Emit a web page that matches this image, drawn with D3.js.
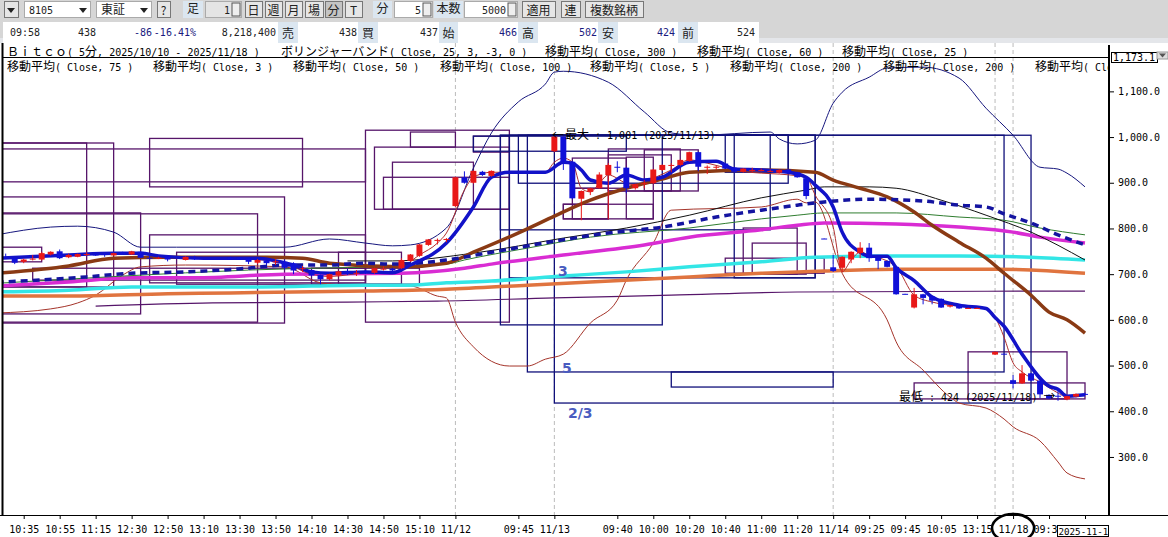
<!DOCTYPE html>
<html>
<head>
<meta charset="utf-8">
<script src="https://cdn.jsdelivr.net/npm/d3@7"></script>
<style>
  html, body { margin: 0; padding: 0; background: #fff; overflow: hidden; }
  svg { display: block; }
  text { white-space: pre; }
</style>
</head>
<body>
<div id="chart"></div>
<script>
// x axis, candle index -> label
const tickIndex = [0, 4, 8, 12, 16, 20, 24, 28, 32, 36, 40, 44, 48, 55, 59, 66, 70, 74, 78, 82, 86, 90, 94, 98, 102, 106, 110, 114, 118];
const tickLabels = ["10:35", "10:55", "11:15", "12:30", "12:50", "13:10", "13:30", "13:50", "14:10", "14:30", "14:50", "15:10", "11/12",
    "09:45", "11/13", "09:40", "10:00", "10:20", "10:40", "11:00", "11:20", "11/14", "09:25", "09:45", "10:05", "13:15", "11/18", "09:3", ""];
const priceTicks = [1100, 1000, 900, 800, 700, 600, 500, 400, 300];
const dayBreaks = [48, 59, 90, 108, 110];

// [index, open, high, low, close]
const candles = [
    [-2, 737, 745, 733, 735], [-1, 735, 736, 722, 725], [0, 727, 734, 724, 732], [1, 733, 742, 730, 734], [2, 732, 749, 730, 746],
    [3, 743, 750, 741, 749], [4, 750, 754, 733, 735], [5, 737, 745, 735, 742], [6, 738, 745, 737, 744], [7, 744, 748, 740, 744],
    [8, 743, 747, 740, 742], [9, 744, 746, 738, 743], [10, 741, 747, 740, 746], [11, 748, 749, 743, 744], [12, 743, 751, 742, 750],
    [13, 749, 750, 735, 736], [14, 736, 742, 733, 735], [15, 735, 738, 733, 736], [16, 738, 739, 728, 732], [18, 731, 739, 730, 738],
    [19, 735, 740, 731, 734], [23, 736, 738, 732, 733], [24, 736, 737, 732, 733], [25, 735, 736, 722, 727], [26, 725, 733, 722, 731],
    [27, 730, 731, 720, 724], [28, 728, 733, 720, 728], [29, 727, 732, 710, 714], [30, 724, 726, 700, 708], [31, 713, 718, 705, 713],
    [32, 709, 710, 695, 697], [33, 698, 699, 678, 689], [34, 689, 701, 686, 700], [35, 697, 707, 695, 706], [36, 705, 712, 698, 704],
    [37, 703, 709, 696, 703], [38, 705, 709, 700, 704], [39, 703, 714, 701, 713], [40, 712, 717, 708, 712], [41, 712, 714, 706, 708],
    [42, 713, 735, 711, 731], [43, 729, 744, 727, 743], [44, 740, 766, 738, 765], [45, 764, 777, 762, 776], [46, 775, 778, 765, 775],
    [47, 777, 779, 770, 777], [48, 849, 913, 847, 912], [49, 912, 925, 898, 900], [50, 900, 927, 898, 926], [51, 924, 926, 915, 917],
    [52, 915, 927, 913, 926], [59, 969, 1001, 967, 1001], [60, 1001, 1001, 928, 946], [61, 946, 947, 864, 866], [62, 865, 883, 818, 882],
    [63, 880, 889, 873, 888], [64, 888, 923, 887, 918], [65, 917, 943, 820, 939], [66, 935, 947, 923, 934], [67, 933, 934, 877, 888],
    [68, 888, 898, 885, 897], [69, 899, 906, 888, 899], [70, 899, 930, 897, 929], [71, 928, 940, 926, 939], [72, 939, 943, 923, 939],
    [73, 939, 951, 937, 950], [74, 948, 968, 946, 967], [75, 967, 968, 925, 935], [76, 935, 938, 919, 935], [77, 935, 938, 928, 935],
    [78, 942, 943, 930, 931], [79, 933, 934, 922, 924], [80, 924, 932, 922, 931], [81, 928, 933, 923, 928], [82, 928, 931, 925, 928],
    [83, 926, 929, 924, 926], [84, 922, 929, 920, 928], [85, 929, 930, 921, 922], [86, 923, 924, 911, 912], [87, 910, 911, 864, 871],
    [89, 778, 778, 777, 777], [90, 715, 742, 705, 707], [91, 714, 739, 705, 738], [92, 732, 750, 724, 749], [93, 746, 770, 735, 758],
    [94, 758, 768, 727, 735], [95, 736, 737, 711, 729], [96, 729, 730, 715, 716], [97, 716, 717, 655, 656], [98, 657, 657, 656, 656],
    [99, 627, 670, 625, 656], [100, 656, 657, 634, 648], [101, 651, 652, 634, 642], [102, 646, 647, 626, 627], [103, 629, 633, 627, 632],
    [104, 632, 633, 624, 625], [105, 626, 627, 625, 626], [106, 626, 627, 625, 626], [108, 524, 531, 523, 530], [109, 526, 526, 525, 525],
    [110, 468, 479, 450, 460], [111, 461, 501, 460, 483], [112, 483, 484, 466, 467], [113, 467, 468, 429, 437], [114, 436, 437, 427, 428],
    [115, 434, 447, 423, 433], [116, 426, 434, 424, 433], [117, 432, 439, 430, 438], [118, 438, 441, 435, 437]
];

// series as [index, price]
const ma5 = [[-3, 735], [5, 742], [10, 746], [13, 746], [15, 740], [20, 735], [26, 735], [28, 729], [30, 720], [32, 705], [34, 702], [38, 705], [41, 703], [43, 720], [47, 768], [50, 847], [52, 912], [54, 923], [58, 923], [60, 945], [61, 943], [62, 928], [63, 906], [65, 899], [67, 917], [69, 906], [71, 912], [74, 945], [77, 947], [79, 930], [82, 928], [85, 923], [87, 912], [88, 895], [90, 847], [91, 792], [93, 748], [94, 739], [96, 739], [97, 714], [99, 686], [101, 650], [104, 632], [107, 625], [108, 605], [109, 586], [111, 525], [114, 455], [115, 448], [116, 433], [118, 436]];
const ma25 = [[-3, 682], [7, 694], [12, 702], [18, 705], [25, 713], [29, 720], [31, 720], [34, 720], [38, 724], [41, 722], [47, 731], [52, 748], [59, 772], [65, 790], [71, 803], [77, 825], [82, 840], [86, 851], [89, 858], [94, 864], [100, 860], [104, 851], [107, 847], [109, 832], [112, 812], [115, 786], [118, 764]];
const ma75 = [[-3, 702], [5, 718], [10, 735], [16, 737], [27, 737], [31, 735], [34, 724], [42, 716], [47, 724], [50, 748], [56, 799], [59, 827], [63, 862], [67, 888], [71, 908], [74, 923], [82, 928], [88, 923], [90, 906], [93, 888], [96, 869], [99, 836], [101, 807], [104, 770], [107, 735], [109, 702], [112, 654], [114, 617], [116, 600], [118, 571]];
const ma100 = [[-3, 674], [5, 683], [12, 692], [19, 692], [29, 700], [42, 702], [49, 713], [52, 722], [60, 742], [69, 764], [74, 781], [82, 797], [86, 807], [89, 812], [97, 810], [104, 803], [110, 792], [113, 781], [118, 768]];
const ma200a = [[-3, 661], [5, 665], [12, 672], [26, 672], [38, 676], [43, 676], [47, 681], [52, 685], [60, 696], [67, 705], [74, 716], [82, 727], [88, 737], [97, 740], [104, 740], [112, 737], [118, 731]];
const ma200b = [[-3, 652], [5, 652], [16, 657], [23, 659], [38, 663], [47, 667], [56, 676], [63, 683], [74, 694], [82, 702], [89, 707], [97, 711], [108, 711], [118, 702]];
const ma60 = [[-3, 680], [25, 709], [47, 722], [49, 731], [56, 757], [63, 781], [74, 801], [82, 821], [86, 829], [89, 834], [97, 834], [104, 825], [109, 818], [113, 801], [118, 786]];
const ma50 = [[36, 729], [41, 729], [50, 746], [60, 779], [67, 801], [74, 829], [82, 867], [87, 884], [89, 891], [94, 891], [97, 888], [102, 862], [107, 829], [112, 792], [118, 731]];
const ma3 = [[-3, 733], [10, 745], [13, 745], [16, 737], [28, 730], [32, 700], [34, 695], [38, 703], [41, 705], [44, 742], [46, 768], [47, 790], [49, 884], [50, 912], [52, 923], [58, 923], [59, 945], [60, 954], [61, 945], [62, 888], [63, 880], [64, 899], [65, 917], [67, 899], [68, 895], [70, 910], [72, 928], [74, 950], [76, 943], [79, 928], [87, 912], [88, 873], [90, 803], [91, 705], [92, 731], [93, 748], [94, 742], [97, 716], [99, 654], [101, 639], [103, 632], [107, 626], [108, 606], [109, 562], [110, 506], [111, 486], [113, 464], [115, 440], [116, 431], [118, 436]];
const bollUpper = [[-3, 786], [3, 803], [6, 805], [10, 792], [13, 759], [17, 759], [29, 759], [34, 777], [38, 768], [41, 762], [43, 764], [47, 801], [50, 932], [52, 1009], [55, 1077], [58, 1116], [59, 1142], [60, 1144], [65, 1120], [69, 1055], [72, 1009], [75, 1004], [83, 1011], [84, 996], [86, 985], [88, 993], [90, 1074], [91, 1098], [94, 1131], [96, 1151], [100, 1153], [104, 1129], [107, 1063], [110, 1004], [113, 934], [115, 930], [116, 921], [118, 891]];
const bollLower = [[-3, 615], [3, 624], [6, 637], [8, 654], [11, 698], [13, 716], [18, 720], [29, 716], [33, 681], [36, 676], [43, 674], [46, 652], [47, 648], [48, 595], [50, 541], [54, 499], [56, 499], [58, 514], [60, 525], [63, 593], [66, 643], [67, 687], [70, 768], [72, 840], [82, 847], [86, 864], [87, 856], [88, 858], [91, 702], [96, 600], [97, 552], [100, 490], [103, 431], [104, 418], [107, 407], [109, 383], [110, 366], [113, 335], [115, 289], [116, 265], [118, 252]];
const ma300 = [[8, 630], [21, 637], [36, 639], [46, 641], [59, 648], [72, 654], [86, 661], [118, 663]];

// boxes as [from index, to index, top price, bottom price]
const purpleBoxes = [
    [-4, 10, 987, 672], [-4, 7, 987, 672], [-4, 38, 974, 902], [7, 38, 891, 891], [-4, 29, 869, 593], [-4, 13, 834, 613],
    [-4, 26, 832, 595], [1, 38, 713, 687], [14, 31, 997, 891], [14, 38, 786, 681], [17, 38, 748, 678], [-4, 2, 759, 727],
    [35, 42, 748, 678], [32, 44, 713, 678], [38, 54, 1015, 595], [39, 54, 978, 842], [40, 54, 912, 842], [41, 50, 945, 842],
    [43, 48, 1011, 978], [50, 54, 1002, 967], [60, 65, 853, 821], [67, 70, 956, 821], [60, 70, 853, 821], [61, 65, 888, 821],
    [69, 75, 972, 882], [65, 73, 974, 882], [65, 72, 961, 882], [61, 67, 954, 888],
    [80, 86, 801, 700], [81, 87, 768, 700], [78, 89, 735, 702], [105, 116, 530, 427], [99, 118, 462, 427]
];
const navyBoxes = [
    [56, 109, 1004, 486], [59, 112, 1004, 418], [53, 71, 1004, 589], [55, 85, 1004, 899], [54, 88, 1004, 692],
    [53, 83, 1004, 797], [79, 88, 1004, 692], [78, 85, 1004, 923], [50, 67, 1002, 969], [72, 90, 486, 453]
];

const legendRow1 = ["Ｂｉｔｃｏ( 5分, 2025/10/10 - 2025/11/18 )", "ボリンジャーバンド( Close, 25, 3, -3, 0 )", "移動平均( Close, 300 )", "移動平均( Close, 60 )", "移動平均( Close, 25 )"];
const legendRow2 = ["移動平均( Close, 75 )", "移動平均( Close, 3 )", "移動平均( Close, 50 )", "移動平均( Close, 100 )", "移動平均( Close, 5 )", "移動平均( Close, 200 )", "移動平均( Close, 200 )", "移動平均( Close, 200 )"];

const width = 1168, height = 537;
const monoFont = "'DejaVu Sans Mono', monospace";
const cjkFont = "'Noto Sans CJK JP', sans-serif";

const svg = d3.select("#chart").append("svg").attr("width", width).attr("height", height);
const defs = svg.append("defs");
defs.append("clipPath").attr("id", "plotClip").append("rect").attr("x", 3).attr("y", 58).attr("width", 1105).attr("height", 457);
defs.append("clipPath").attr("id", "legendClip").append("rect").attr("x", 3).attr("y", 43).attr("width", 1105).attr("height", 40);

const xScale = d3.scaleLinear().domain([0, 118]).range([23.7, 1085]);
const yScale = d3.scaleLinear().domain([1173, 173]).range([58, 515]);

// half width ascii + full width kanji, like the bitmap gothic of the original
function mixedText(parent, x, y, str, color, anchor) {
    const t = parent.append("text").attr("x", x).attr("y", y).attr("fill", color || "#000")
        .attr("text-anchor", anchor || "start");
    str.match(/[\x00-\x7f]+|[^\x00-\x7f]+/g).forEach(function (run) {
        const ascii = /^[\x00-\x7f]/.test(run);
        t.append("tspan")
            .attr("font-family", ascii ? monoFont : cjkFont)
            .attr("font-size", ascii ? 10 : 12)
            .text(run);
    });
    return t;
}

// toolbar
const bar = svg.append("g");
bar.append("rect").attr("width", width).attr("height", 43).attr("fill", "#d6d6d6");
bar.append("rect").attr("x", 0).attr("y", 38).attr("width", width).attr("height", 5).attr("fill", "#e4e6ea");

function button(x, w, label, pressed) {
    bar.append("rect").attr("x", x + 0.5).attr("y", 1.5).attr("width", w).attr("height", 16)
        .attr("fill", pressed ? "#c4c4c4" : "#e6e6e6").attr("stroke", "#777");
    bar.append("text").attr("x", x + w / 2).attr("y", 14.5).attr("text-anchor", "middle")
        .attr("font-family", cjkFont).attr("font-size", 12).attr("fill", "#222").text(label);
}
function tag(x, w, y, h, label) {
    bar.append("rect").attr("x", x).attr("y", y).attr("width", w).attr("height", h).attr("fill", "#dbe6f0");
    bar.append("text").attr("x", x + w / 2).attr("y", y + h - 5).attr("text-anchor", "middle")
        .attr("font-family", cjkFont).attr("font-size", 12).attr("fill", "#222").text(label);
}
function field(x, w, label, align, fill) {
    bar.append("rect").attr("x", x + 0.5).attr("y", 1.5).attr("width", w).attr("height", 16)
        .attr("fill", fill || "#fff").attr("stroke", "#aaa");
    mixedText(bar, align === "end" ? x + w - 11 : x + 5, 14, label, "#222", align || "start");
    if (align === "end") {
        bar.append("rect").attr("x", x + w - 9).attr("y", 3).attr("width", 8).attr("height", 13)
            .attr("fill", "#eee").attr("stroke", "#555");
    }
}
function arrowDown(cx, cy) {
    bar.append("path").attr("d", `M${cx - 4},${cy - 2}L${cx + 4},${cy - 2}L${cx},${cy + 3}Z`).attr("fill", "#222");
}

button(4, 14, "");
arrowDown(11, 10);
field(24, 66, "8105");
arrowDown(83, 10);
field(96, 55, "東証");
arrowDown(144, 10);
button(157, 13, "?");
tag(183, 20, 1, 17, "足");
field(205, 36, "1", "end", "#e4e4e4");
button(245, 17, "日");
button(265, 17, "週");
button(285, 17, "月");
button(305, 18, "場");
button(325, 17, "分", true);
button(345, 17, "T");
tag(373, 19, 1, 17, "分");
field(394, 38, "5", "end");
tag(434, 29, 1, 17, "本数");
field(464, 53, "5000", "end");
button(522, 33, "適用");
button(561, 19, "連");
button(585, 58, "複数銘柄");

// quote row
bar.append("rect").attr("x", 3).attr("y", 22).attr("width", 756).attr("height", 21).attr("fill", "#fff");
function quote(x, label, color, anchor) {
    bar.append("text").attr("x", x).attr("y", 36).attr("text-anchor", anchor || "end")
        .attr("font-family", monoFont).attr("font-size", 10).attr("fill", color || "#222").text(label);
}
quote(10, "09:58", "#222", "start");
quote(96, "438");
quote(152, "-86", "#1a1a80");
quote(196, "-16.41%", "#1a1a80");
quote(276, "8,218,400");
tag(278, 20, 22, 21, "売");
quote(357, "438");
tag(358, 20, 22, 21, "買");
quote(438, "437");
tag(439, 19, 22, 21, "始");
quote(517, "466", "#1a1a80");
tag(518, 20, 22, 21, "高");
quote(597, "502", "#1a1a80");
tag(598, 20, 22, 21, "安");
quote(675, "424", "#1a1a80");
tag(678, 20, 22, 21, "前");
quote(755, "524");

// day break guides
svg.append("g").selectAll("line").data(dayBreaks).join("line")
    .attr("x1", d => xScale(d)).attr("x2", d => xScale(d))
    .attr("y1", 43).attr("y2", 515)
    .attr("stroke", "#bbb").attr("stroke-dasharray", "4,3");

const plot = svg.append("g").attr("clip-path", "url(#plotClip)");

function drawBoxes(data, color) {
    plot.append("g").selectAll("rect").data(data).join("rect")
        .attr("x", d => xScale(d[0]))
        .attr("y", d => yScale(d[2]))
        .attr("width", d => xScale(d[1]) - xScale(d[0]))
        .attr("height", d => yScale(d[3]) - yScale(d[2]))
        .attr("fill", "none").attr("stroke", color).attr("stroke-width", 1.3);
}
drawBoxes(purpleBoxes, "#56156a");
drawBoxes(navyBoxes, "#10107a");

const line = d3.line().x(d => xScale(d[0])).y(d => yScale(d[1])).curve(d3.curveMonotoneX);
function drawLine(data, color, w, dash) {
    plot.append("path").datum(data).attr("d", line)
        .attr("fill", "none").attr("stroke", color).attr("stroke-width", w)
        .attr("stroke-dasharray", dash || null);
}
drawLine(ma300, "#56156a", 1.2);
drawLine(bollUpper, "#16167e", 1);
drawLine(bollLower, "#a5342a", 1);
drawLine(ma200b, "#e0743f", 3.5);
drawLine(ma200a, "#33e6e6", 3.5);
drawLine(ma100, "#d92cd3", 3.5);
drawLine(ma60, "#2f7d2f", 1);
drawLine(ma50, "#111", 1);
drawLine(ma3, "#b03030", 1);
drawLine(ma75, "#8a3a14", 3.5);
drawLine(ma25, "#1414a0", 3.5, "7,5");
drawLine(ma5, "#1212c8", 3.5);

// candles
const bodyWidth = (xScale(1) - xScale(0)) * 0.66;
const candleColor = d => d[4] >= d[1] ? "#e81818" : "#1010d8";
const candleGroup = plot.append("g");
candleGroup.selectAll("line").data(candles).join("line")
    .attr("x1", d => xScale(d[0])).attr("x2", d => xScale(d[0]))
    .attr("y1", d => yScale(d[2])).attr("y2", d => yScale(d[3]))
    .attr("stroke", candleColor);
candleGroup.selectAll("rect").data(candles).join("rect")
    .attr("x", d => xScale(d[0]) - bodyWidth / 2)
    .attr("y", d => yScale(Math.max(d[1], d[4])))
    .attr("width", bodyWidth)
    .attr("height", d => Math.max(1, Math.abs(yScale(d[1]) - yScale(d[4]))))
    .attr("fill", candleColor);

// frame
const frame = svg.append("g").attr("stroke", "#000");
frame.append("line").attr("x1", 3).attr("x2", 1109).attr("y1", 57.5).attr("y2", 57.5);
frame.append("line").attr("x1", 2.5).attr("x2", 2.5).attr("y1", 43).attr("y2", 515).attr("stroke-width", 2);
frame.append("line").attr("x1", 1109).attr("x2", 1109).attr("y1", 45).attr("y2", 515).attr("stroke-width", 2);
frame.append("line").attr("x1", 0).attr("x2", width).attr("y1", 515.5).attr("y2", 515.5);

// axes
const xAxis = d3.axisBottom(xScale)
    .tickValues(tickIndex)
    .tickFormat((d, i) => tickLabels[i])
    .tickSize(4).tickPadding(7);
const xAxisG = svg.append("g").attr("transform", "translate(0,515)").call(xAxis);
const yAxis = d3.axisRight(yScale)
    .tickValues(priceTicks)
    .tickFormat(d3.format(",.1f"))
    .tickSize(5).tickPadding(4);
const yAxisG = svg.append("g").attr("transform", "translate(1109,0)").call(yAxis);
[xAxisG, yAxisG].forEach(function (g) {
    g.select(".domain").remove();
    g.selectAll("text").attr("font-family", monoFont).attr("font-size", 10).attr("fill", "#000");
});
// the tick under the date box only shows its first characters
xAxisG.selectAll("text").filter(d => d === 114).attr("dx", -4);

// legends
const legendG = svg.append("g").attr("clip-path", "url(#legendClip)");
const row1X = [7, 281, 545, 697, 842];
const row2X = [7, 153, 293, 440, 590, 730, 883, 1035];
legendRow1.forEach((d, i) => mixedText(legendG, row1X[i], 56, d));
legendRow2.forEach((d, i) => mixedText(legendG, row2X[i], 71, d));
frame.raise();

// top price box
svg.append("rect").attr("x", 1111.5).attr("y", 52.5).attr("width", 46).attr("height", 10).attr("fill", "#fff").attr("stroke", "#000");
svg.append("text").attr("x", 1113).attr("y", 61).attr("font-family", monoFont).attr("font-size", 10).text("1,173.1");
svg.append("rect").attr("x", 1157).attr("y", 52).attr("width", 11).attr("height", 7).attr("fill", "#ddd").attr("stroke", "#999");
svg.append("path").attr("d", "M1159,53.5L1166,53.5L1162.5,57.5Z").attr("fill", "#555");

// high and low notes
mixedText(svg, 552, yScale(1001) + 3, "← ", "#000");
mixedText(svg, 565, yScale(1001) + 2, "最大 : 1,001 (2025/11/13)");
mixedText(svg, 899, yScale(424) + 1, "最低 : 424 (2025/11/18) →");

// hand written notes on the picture
const noteFont = "'DejaVu Sans', sans-serif";
[["3", 558, 276], ["5", 562, 373], ["2/3", 568, 418]].forEach(function (d) {
    svg.append("text").attr("x", d[1]).attr("y", d[2]).text(d[0])
        .attr("font-family", noteFont).attr("font-weight", "bold").attr("font-size", 14).attr("fill", "#4a5cc0");
});

// date box, cut short as in the original
svg.append("rect").attr("x", 1057.5).attr("y", 525.5).attr("width", 51).attr("height", 11).attr("fill", "#fff").attr("stroke", "#000");
svg.append("text").attr("x", 1058.5).attr("y", 535).attr("font-family", monoFont).attr("font-size", 9.2).text("2025-11-1");

// circle round 11/18
svg.append("ellipse").attr("cx", xScale(110)).attr("cy", 528).attr("rx", 21).attr("ry", 14)
    .attr("fill", "none").attr("stroke", "#000").attr("stroke-width", 2.5);
</script>
</body>
</html>
